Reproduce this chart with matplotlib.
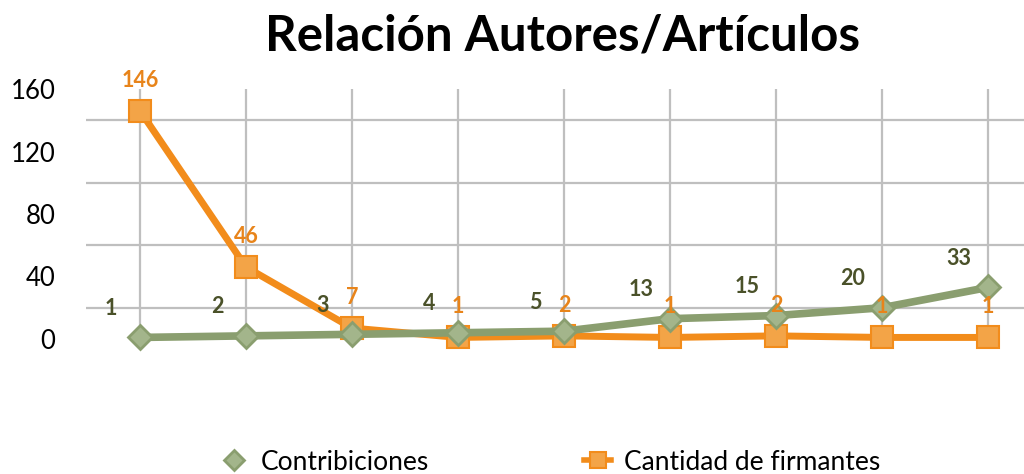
import matplotlib
matplotlib.use("Agg")
import matplotlib.pyplot as plt
from matplotlib.lines import Line2D

categories = ["1", "2", "3", "4", "5", "6", "7", "8", "9"]
contribuciones = [1, 2, 3, 4, 5, 13, 15, 20, 33]
firmantes = [146, 46, 7, 1, 2, 1, 2, 1, 1]
yticks = [0, 40, 80, 120, 160]
grid_y = [20, 60, 100, 140]

title = "Relación Autores/Artículos"
green_line = "#8A9E6F"
green_fill = "#A3B58B"
green_text = "#4A5129"
orange_line = "#F28C1B"
orange_fill = "#F3A447"
orange_text = "#E8841A"

plt.rcParams['font.family'] = ['Lato', 'DejaVu Sans']

fig = plt.figure(figsize=(10.24, 4.74), dpi=100)
ax = fig.add_axes([86/1024, 1 - 339/474, 1 - 86/1024, (339 - 89)/474])
x = list(range(len(categories)))
ax.set_xlim(-0.51, 8.34)
ax.set_ylim(0, 160)

for gy in grid_y:
    ax.axhline(gy, color="#BFBFBF", lw=1.6, zorder=1)
for xi in x:
    ax.axvline(xi, color="#BFBFBF", lw=1.6, zorder=1)

ax.plot(x, firmantes, color=orange_line, lw=5, marker='s', ms=16,
        mfc=orange_fill, mec=orange_line, mew=1.5, zorder=3, clip_on=False)
ax.plot(x, contribuciones, color=green_line, lw=5.5, marker='D', ms=12,
        mfc=green_fill, mec=green_line, mew=2, zorder=4, clip_on=False)

for xi, v in zip(x, contribuciones):
    ax.annotate(str(v), (xi, v), xytext=(-21, 21), textcoords='offset points',
                ha='center', va='center', fontsize=15.5, fontweight='bold',
                color=green_text, zorder=6, annotation_clip=False)
for xi, v in zip(x, firmantes):
    ax.annotate(str(v), (xi, v), xytext=(0, 22), textcoords='offset points',
                ha='center', va='center', fontsize=15.5, fontweight='bold',
                color=orange_text, zorder=6, annotation_clip=False)

for s in ax.spines.values():
    s.set_visible(False)
ax.set_xticks([])
ax.set_yticks(yticks)
ax.set_yticklabels([str(t) for t in yticks], fontsize=18.5)
ax.tick_params(axis='y', length=0, pad=22)

fig.text(0.549, 0.925, title, ha='center', va='center', fontsize=35.5,
         fontweight='bold', color='black')

h1 = Line2D([], [], color=green_line, lw=0, marker='D', ms=10,
            mfc=green_fill, mec=green_line, mew=2)
h2 = Line2D([], [], color=orange_line, lw=4, marker='s', ms=12,
            mfc=orange_fill, mec=orange_line, mew=1.5)
fig.legend([h1, h2], ["Contribiciones", "Cantidad de firmantes"],
           loc='center', bbox_to_anchor=(0.5376, 0.025), ncol=2, frameon=False,
           fontsize=19, handlelength=1.0, columnspacing=5.9, handletextpad=0.5)

fig.savefig("out.png", dpi=100)
